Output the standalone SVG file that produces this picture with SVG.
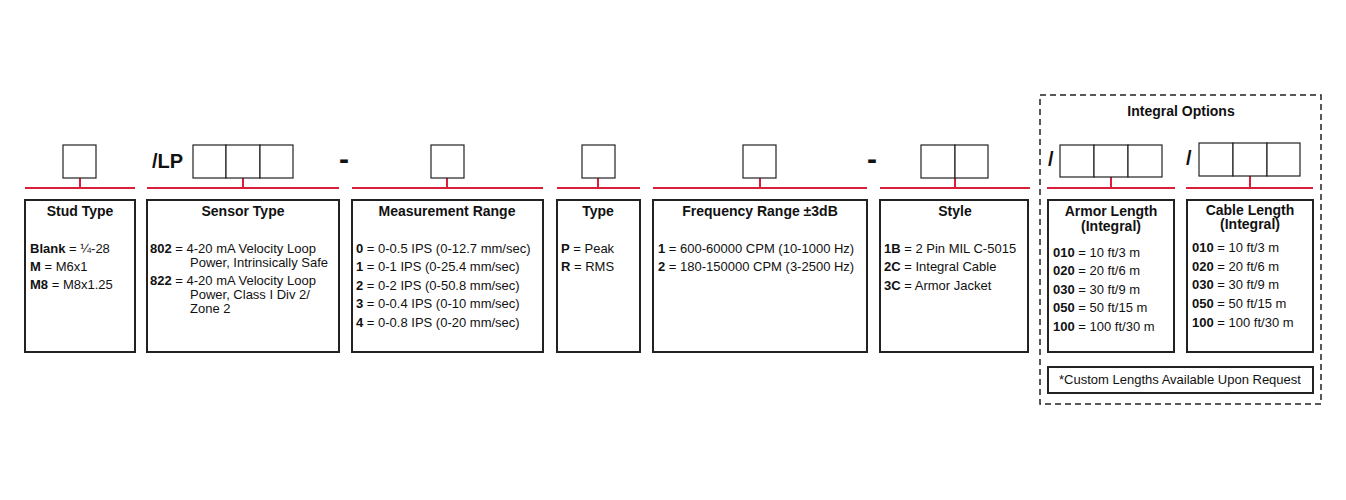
<svg xmlns="http://www.w3.org/2000/svg" width="1346" height="500" viewBox="0 0 1346 500">
<style>
text{font-family:"Liberation Sans",Arial,sans-serif;fill:#111}
.t{font-size:14px;font-weight:bold;text-anchor:middle}
.i{font-size:13px}
.b{font-weight:bold}
.sb{fill:#fff;stroke:#222;stroke-width:1.2}
.bx{fill:#fff;stroke:#222;stroke-width:2}
.r{stroke:#d8203c;stroke-width:2;fill:none}
.big{font-size:20px;font-weight:bold}
.dash{font-size:30px;font-weight:bold}
</style>
<rect x="0" y="0" width="1346" height="500" fill="#fff"/>
<rect x="1040" y="95" width="281" height="309" fill="none" stroke="#222" stroke-width="1.5" stroke-dasharray="6,4"/>
<text class="t" x="1181" y="116">Integral Options</text>
<g id="connectors">
<path class="r" d="M25 188H135M80 178V188M147 188H339M243 178V188M352 188H543M447 178V188M557 188H640M598 178V188M653 188H867M760 178V188M880 188H1030M955 178V188M1047 188H1175M1111 177V188M1186 188H1313M1250 175V188"/>
</g>
<g id="stud">
<rect class="sb" x="63" y="145" width="33" height="33"/>
<rect class="bx" x="25" y="200" width="110" height="152"/>
<text class="t" x="80" y="216">Stud Type</text>
<text class="i" x="30" y="253"><tspan class="b">Blank</tspan> = ¼-28</text>
<text class="i" x="30" y="271"><tspan class="b">M</tspan> = M6x1</text>
<text class="i" x="30" y="289"><tspan class="b">M8</tspan> = M8x1.25</text>
</g>
<g id="sensor">
<text class="big" x="152" y="168">/LP</text>
<rect class="sb" x="193" y="145" width="33" height="33"/><rect class="sb" x="226" y="145" width="34" height="33"/><rect class="sb" x="260" y="145" width="33" height="33"/>
<rect class="bx" x="147" y="200" width="192" height="152"/>
<text class="t" x="243" y="216">Sensor Type</text>
<text class="i" x="150" y="253"><tspan class="b">802</tspan> = 4-20 mA Velocity Loop</text>
<text class="i" x="190" y="267">Power, Intrinsically Safe</text>
<text class="i" x="150" y="285"><tspan class="b">822</tspan> = 4-20 mA Velocity Loop</text>
<text class="i" x="190" y="299">Power, Class I Div 2/</text>
<text class="i" x="190" y="313">Zone 2</text>
</g>
<text class="dash" x="339" y="169">-</text>
<g id="range">
<rect class="sb" x="431" y="145" width="33" height="33"/>
<rect class="bx" x="352" y="200" width="191" height="152"/>
<text class="t" x="447" y="216">Measurement Range</text>
<text class="i" x="356" y="253"><tspan class="b">0</tspan> = 0-0.5 IPS (0-12.7 mm/sec)</text>
<text class="i" x="356" y="271"><tspan class="b">1</tspan> = 0-1 IPS (0-25.4 mm/sec)</text>
<text class="i" x="356" y="290"><tspan class="b">2</tspan> = 0-2 IPS (0-50.8 mm/sec)</text>
<text class="i" x="356" y="308"><tspan class="b">3</tspan> = 0-0.4 IPS (0-10 mm/sec)</text>
<text class="i" x="356" y="327"><tspan class="b">4</tspan> = 0-0.8 IPS (0-20 mm/sec)</text>
</g>
<g id="type">
<rect class="sb" x="582" y="145" width="33" height="33"/>
<rect class="bx" x="557" y="200" width="83" height="152"/>
<text class="t" x="598" y="216">Type</text>
<text class="i" x="561" y="253"><tspan class="b">P</tspan> = Peak</text>
<text class="i" x="561" y="271"><tspan class="b">R</tspan> = RMS</text>
</g>
<g id="freq">
<rect class="sb" x="743" y="145" width="33" height="33"/>
<rect class="bx" x="653" y="200" width="214" height="152"/>
<text class="t" x="760" y="216">Frequency Range ±3dB</text>
<text class="i" x="658" y="253"><tspan class="b">1</tspan> = 600-60000 CPM (10-1000 Hz)</text>
<text class="i" x="658" y="271"><tspan class="b">2</tspan> = 180-150000 CPM (3-2500 Hz)</text>
</g>
<text class="dash" x="867" y="169">-</text>
<g id="style">
<rect class="sb" x="921" y="145" width="34" height="33"/><rect class="sb" x="955" y="145" width="33" height="33"/>
<rect class="bx" x="880" y="200" width="148" height="152"/>
<text class="t" x="955" y="216">Style</text>
<text class="i" x="884" y="253"><tspan class="b">1B</tspan> = 2 Pin MIL C-5015</text>
<text class="i" x="884" y="271"><tspan class="b">2C</tspan> = Integral Cable</text>
<text class="i" x="884" y="290"><tspan class="b">3C</tspan> = Armor Jacket</text>
</g>
<g id="armor">
<text class="big" x="1048" y="166">/</text>
<rect class="sb" x="1060" y="145" width="34" height="32"/><rect class="sb" x="1094" y="145" width="34" height="32"/><rect class="sb" x="1128" y="145" width="34" height="32"/>
<rect class="bx" x="1048" y="200" width="126" height="152"/>
<text class="t" x="1111" y="216">Armor Length</text>
<text class="t" x="1111" y="231">(Integral)</text>
<text class="i" x="1053" y="257"><tspan class="b">010</tspan> = 10 ft/3 m</text>
<text class="i" x="1053" y="275"><tspan class="b">020</tspan> = 20 ft/6 m</text>
<text class="i" x="1053" y="294"><tspan class="b">030</tspan> = 30 ft/9 m</text>
<text class="i" x="1053" y="312"><tspan class="b">050</tspan> = 50 ft/15 m</text>
<text class="i" x="1053" y="331"><tspan class="b">100</tspan> = 100 ft/30 m</text>
</g>
<g id="cable">
<text class="big" x="1186" y="165">/</text>
<rect class="sb" x="1199" y="143" width="34" height="33"/><rect class="sb" x="1233" y="143" width="34" height="33"/><rect class="sb" x="1267" y="143" width="33" height="33"/>
<rect class="bx" x="1187" y="200" width="126" height="152"/>
<text class="t" x="1250" y="215">Cable Length</text>
<text class="t" x="1250" y="229">(Integral)</text>
<text class="i" x="1192" y="252"><tspan class="b">010</tspan> = 10 ft/3 m</text>
<text class="i" x="1192" y="271"><tspan class="b">020</tspan> = 20 ft/6 m</text>
<text class="i" x="1192" y="289"><tspan class="b">030</tspan> = 30 ft/9 m</text>
<text class="i" x="1192" y="308"><tspan class="b">050</tspan> = 50 ft/15 m</text>
<text class="i" x="1192" y="327"><tspan class="b">100</tspan> = 100 ft/30 m</text>
</g>
<g id="note">
<rect class="bx" x="1048" y="367" width="265" height="26"/>
<text class="i" x="1180" y="384" text-anchor="middle">*Custom Lengths Available Upon Request</text>
</g>
</svg>
